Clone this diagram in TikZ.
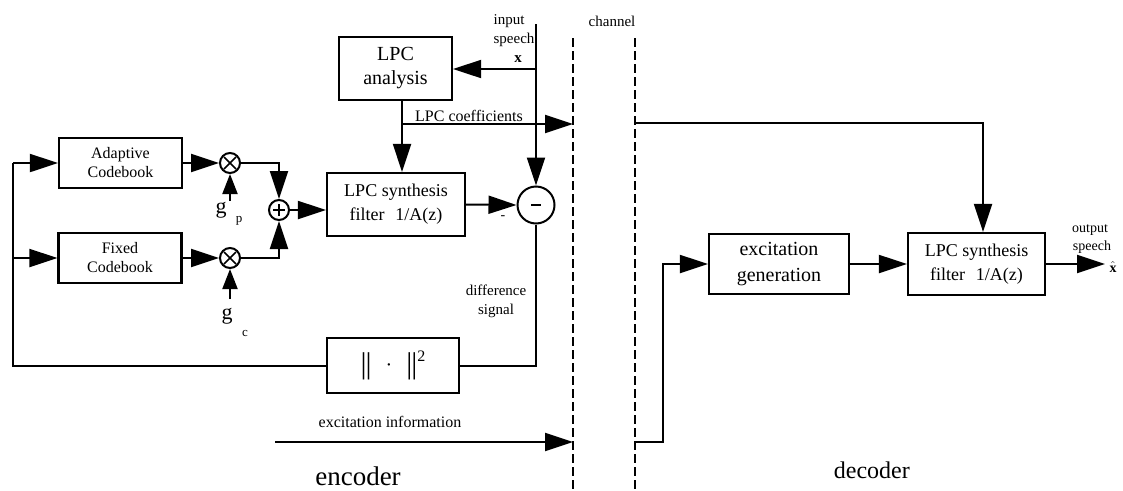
\documentclass[tikz,border=0pt]{standalone}
\usepackage{fontspec}
\setmainfont{Liberation Serif}
\usetikzlibrary{arrows.meta,calc}
\newcommand\fsz[2]{\fontsize{#1}{#2}\selectfont}
\begin{document}
\begin{tikzpicture}[x=1pt,y=-1pt,
  blk/.style={draw, line width=2.2pt, align=center, inner sep=0pt},
  ln/.style={line width=2pt},
  arr/.style={ln, -{Triangle[length=28pt,width=18pt]}},
  sarr/.style={ln, -{Triangle[length=20pt,width=15pt]}},
  chan/.style={line width=2.2pt, dash pattern=on 9pt off 4pt},
  lbl/.style={inner sep=0pt, align=center},
  mult/.style={circle, draw, line width=2pt, minimum size=20pt, inner sep=0pt,
    path picture={
      \draw[line width=1.6pt] ($(path picture bounding box.center)+(-6pt,-6pt)$) -- ($(path picture bounding box.center)+(6pt,6pt)$);
      \draw[line width=1.6pt] ($(path picture bounding box.center)+(-6pt,6pt)$) -- ($(path picture bounding box.center)+(6pt,-6pt)$);}},
  plus/.style={circle, draw, line width=2pt, minimum size=20pt, inner sep=0pt,
    path picture={
      \draw[line width=1.8pt] ($(path picture bounding box.center)+(-6pt,0pt)$) -- ($(path picture bounding box.center)+(6pt,0pt)$);
      \draw[line width=1.8pt] ($(path picture bounding box.center)+(0pt,-6pt)$) -- ($(path picture bounding box.center)+(0pt,6pt)$);}},
  minus/.style={circle, draw, line width=2pt, minimum size=37pt, inner sep=0pt,
    path picture={
      \draw[line width=2.6pt] ($(path picture bounding box.center)+(-5pt,0pt)$) -- ($(path picture bounding box.center)+(5pt,0pt)$);}}
]
\useasboundingbox (0,0) rectangle (1123,490);

% ---------- encoder blocks ----------
\node[blk, minimum width=123pt, minimum height=50pt, font=\fsz{16}{19}] (adapt) at (120.5,163) {Adaptive\\Codebook};
\node[blk, minimum width=123pt, minimum height=50pt, font=\fsz{16}{19}] (fixed) at (120,258) {Fixed\\Codebook};
\node[mult] (m1) at (230,163) {};
\node[mult] (m2) at (230,258) {};
\node[plus] (sum) at (279,210) {};
\node[blk, minimum width=138pt, minimum height=63pt, font=\fsz{18}{24}] (syn) at (396,204.5) {LPC synthesis\\filter\hspace{0.6em}1/A(z)};
\node[blk, minimum width=113pt, minimum height=63pt, font=\fsz{20}{24}] (ana) at (395.5,68.5) {LPC\\analysis};
\node[minus] (diff) at (536,205) {};
\node[blk, minimum width=132pt, minimum height=55pt, font=\fsz{30}{30}] (norm) at (393,365.5) {|\kern-1pt|\hspace{14pt}\raisebox{2pt}{\fsz{20}{20}·}\hspace{14pt}|\kern-1pt|\raisebox{12pt}{\fsz{16}{16}2}};

% ---------- decoder blocks ----------
\node[blk, minimum width=140pt, minimum height=60pt, font=\fsz{20}{26}] (exc) at (779,264) {excitation\\generation};
\node[blk, minimum width=137pt, minimum height=62pt, font=\fsz{18}{24}] (syn2) at (976.5,264) {LPC synthesis\\filter\hspace{0.6em}1/A(z)};

% ---------- coordinates ----------
\coordinate (fbA) at (13,163);
\coordinate (gp) at (230,201);
\coordinate (gc) at (230,299);
\coordinate (inTop) at (536,24);
\coordinate (inBr) at (536,69);
\coordinate (coefBr) at (402,124);
\coordinate (chLt) at (573,38);
\coordinate (chLb) at (573,490);
\coordinate (chRt) at (635,38);
\coordinate (chRb) at (635,490);
\coordinate (eiStart) at (275,442);
\coordinate (chRc) at (635,123);
\coordinate (dTurn) at (983,123);
\coordinate (chRe) at (635,442);
\coordinate (eTurn) at (663,442);
\coordinate (outEnd) at (1105,264);

% ---------- channel ----------
\draw[chan] (chLt) -- (chLb);
\draw[chan] (chRt) -- (chRb);

% ---------- encoder connectors ----------
\draw[ln] (norm.west) -| (fbA);
\draw[arr] (fbA) -- (adapt.west);
\draw[arr] (fbA |- fixed.west) -- (fixed.west);
\draw[arr] (adapt.east) -- (m1.west);
\draw[arr] (fixed.east) -- (m2.west);
\draw[sarr] (gp) -- (m1.south);
\draw[sarr] (gc) -- (m2.south);
\draw[arr] (m1.east) -| (sum.north);
\draw[arr] (m2.east) -| (sum.south);
\draw[arr] (sum.east) -- (sum.east -| syn.west);
\draw[arr] (syn.east) -- (diff.west);
\draw[arr] (inTop) -- (diff.north);
\draw[arr] (inBr) -- (inBr -| ana.east);
\draw[arr] (coefBr |- ana.south) -- (coefBr |- syn.north);
\draw[arr] (coefBr) -- (coefBr -| chLt);
\draw[ln] (diff.south) |- (norm.east);
\draw[arr] (eiStart) -- (eiStart -| chLt);

% ---------- decoder connectors ----------
\draw[arr] (chRc) -- (dTurn) -- (dTurn |- syn2.north);
\draw[arr] (chRe) -- (eTurn) |- (exc.west);
\draw[arr] (exc.east) -- (syn2.west);
\draw[arr] (syn2.east) -- (outEnd);

% ---------- labels ----------
\node[lbl, font=\fsz{22}{22}] (gpg) at (221,210) {g};
\node[lbl, font=\fsz{13}{13}] (gpp) at (239,221) {p};
\node[lbl, font=\fsz{22}{22}] (gcg) at (227,316) {g};
\node[lbl, font=\fsz{13}{13}] (gcc) at (245,333) {c};
\node[lbl, font=\fsz{14}{14}] (mlab) at (503,218) {-};
\node[lbl, font=\fsz{15}{15}] (in1) at (509,21) {input};
\node[lbl, font=\fsz{15}{15}] (in2) at (514,40) {speech};
\node[lbl, font=\fsz{15}{15}] (in3) at (518,59) {\textbf{x}};
\node[lbl, font=\fsz{15}{15}] (chlab) at (612,21) {channel};
\node[lbl, font=\fsz{16}{16}] (coef) at (469,116) {LPC coefficients};
\node[lbl, font=\fsz{15}{19}] (dsig) at (496,301) {difference\\signal};
\node[lbl, font=\fsz{16}{16}] (einf) at (390,422) {excitation information};
\node[lbl, font=\fsz{27}{27}, anchor=base] (enc) at (358,485) {encoder};
\node[lbl, font=\fsz{24}{24}, anchor=base east] (dec) at (910,478) {decoder};
\node[lbl, font=\fsz{14}{14}] (out1) at (1090,230) {output};
\node[lbl, font=\fsz{14}{14}] (out2) at (1092,247) {speech};
\node[lbl, font=\fsz{14}{14}] (xhat) at (1113,267) {$\hat{\mathbf{x}}$};
\end{tikzpicture}
\end{document}
